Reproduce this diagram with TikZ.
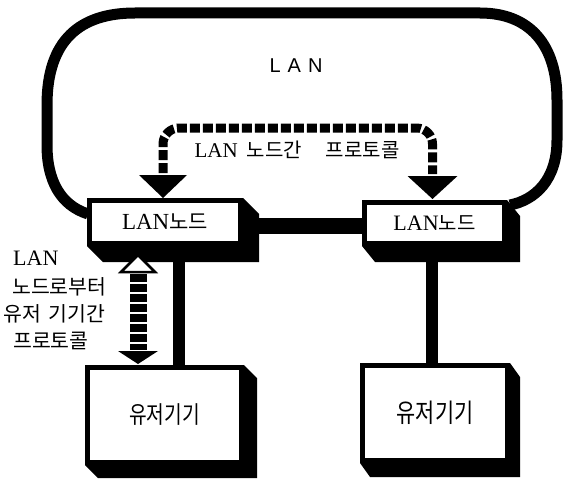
\documentclass[tikz,border=0pt]{standalone}
\usepackage{fontspec}
\setmainfont{Liberation Serif}
\newfontfamily\kr{Noto Sans CJK KR}
\newfontfamily\krn[FakeStretch=0.8]{Noto Sans CJK KR}
\newfontfamily\lsans{Liberation Sans}
\usetikzlibrary{calc,backgrounds}
\newcommand\boxshadow[3]{\fill (#1.north east) -- ++(#2,#3) -- ($(#1.south east)+(#2,#3)$) -- ($(#1.south west)+(#2,#3)$) -- (#1.south west) -- cycle;}
\begin{document}
\begin{tikzpicture}[x=1pt,y=-1pt,
  box/.style={draw,fill=white,line width=5pt,inner sep=0pt,rectangle},
  ring/.style={line width=11pt},
  hlink/.style={line width=16pt},
  vlink/.style={line width=12.5pt},
  dline/.style={line width=9pt,dash pattern=on 10pt off 3pt},
  vdline/.style={line width=17pt,dash pattern=on 7.5pt off 2.5pt},
  lbl/.style={inner sep=0pt},
]
\useasboundingbox (0,0) rectangle (565,487);
% boxes
\node[box,minimum width=151pt,minimum height=43pt] (ln) at (165,222)
  {\fontsize{23}{23}\selectfont LAN{\kr\fontsize{21}{21}\selectfont 노드}};
\node[box,minimum width=140pt,minimum height=41pt] (rn) at (434.5,223)
  {\fontsize{22}{22}\selectfont LAN{\kr\fontsize{20}{20}\selectfont 노드}};
\node[box,minimum width=154pt,minimum height=95pt] (ud1) at (164.5,415)
  {\krn\fontsize{24}{24}\selectfont 유저기기};
\node[box,minimum width=145pt,minimum height=95pt] (ud2) at (435,413)
  {\krn\fontsize{26}{26}\selectfont 유저기기};
% coordinates
\coordinate (hy) at (0,226);
\coordinate (vx1) at (179,0);
\coordinate (vx2) at (432,0);
\coordinate (ptop) at (0,128);
\begin{scope}[on background layer]
  \draw[ring] ($(ln.west)+(1,-8)$) .. controls (60,205) and (47,180) .. (47,145)
    -- (47,105) .. controls (47,40) and (80,13) .. (135,13) -- (480,13)
    .. controls (530,13) and (557,45) .. (557,100) -- (557,140)
    .. controls (557,180) and (535,200) .. ($(rn.north east)+(3,5)$);
  \draw[hlink] (ln.east |- hy) -- (rn.west |- hy);
  \draw[vlink] (ln.south -| vx1) -- (ud1.north -| vx1);
  \draw[vlink] (rn.south -| vx2) -- (ud2.north -| vx2);
  \boxshadow{ln}{16}{16}
  \boxshadow{rn}{13}{16}
  \boxshadow{ud1}{13}{13}
  \boxshadow{ud2}{10}{14}
\end{scope}
% labels
\node[lbl] (lan) at (296,66) {\lsans\fontsize{20}{20}\selectfont L\hspace{7pt}A\hspace{7pt}N};
\node[lbl] (pt) at (297,150) {\fontsize{21}{21}\selectfont LAN\hspace{9pt}{\kr\fontsize{20}{20}\selectfont 노드간\hspace{24pt}프로토콜}};
\node[lbl,anchor=west] (s1) at (13,258) {\fontsize{22}{22}\selectfont LAN};
\node[lbl,anchor=west] (s2) at (12,287) {\kr\fontsize{20.5}{20.5}\selectfont 노드로부터};
\node[lbl,anchor=west] (s3) at (3,314) {\kr\fontsize{20.5}{20.5}\selectfont 유저\hspace{8pt}기기간};
\node[lbl,anchor=west] (s4) at (13,341) {\kr\fontsize{20.5}{20.5}\selectfont 프로토콜};
% protocol arrow between LAN nodes
\coordinate (la) at ($(ln.north)+(-2,0)$);
\coordinate (ra) at ($(rn.north)+(-2,-1)$);
\draw[dline,rounded corners=16pt] ($(la)+(0,-25)$) -- (la |- ptop) -- (ra |- ptop) -- ($(ra)+(0,-25)$);
\fill (la) -- ++(-24,-23) -- ++(48,0) -- cycle;
\fill (ra) -- ++(-25,-23) -- ++(50,0) -- cycle;
% protocol arrow between node and user device
\coordinate (vt) at ($(ln.south)+(-27,7)$);
\coordinate (vb) at ($(ud1.north)+(-26.5,-1)$);
\draw[vdline] ($(vt)+(0,21)$) -- ($(vb)+(0,-14)$);
\filldraw[fill=white,line width=2.5pt,line join=miter] ($(vt)+(0,2)$) -- ++(-17,17) -- ++(34,0) -- cycle;
\fill (vb) -- ++(-20,-13) -- ++(40,0) -- cycle;
\end{tikzpicture}
\end{document}
